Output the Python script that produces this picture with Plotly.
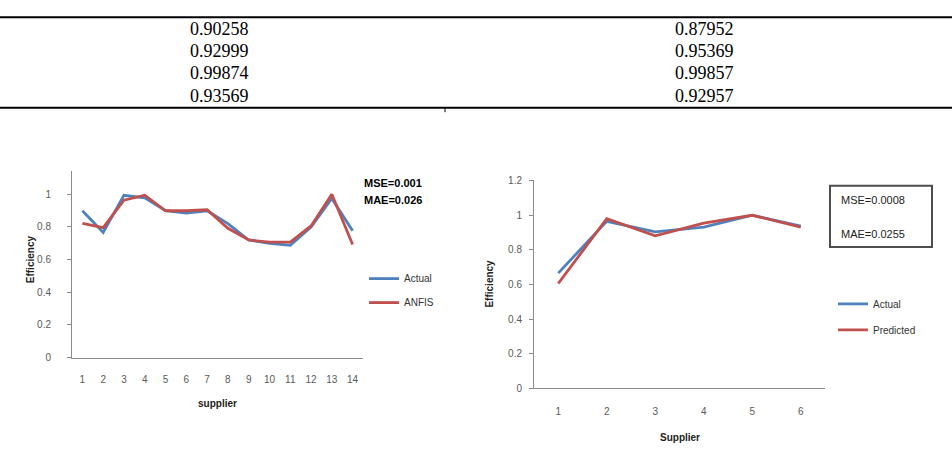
import plotly.graph_objects as go

W, H = 952, 460

# ---- data ----
table_left = ["0.90258", "0.92999", "0.99874", "0.93569"]
table_right = ["0.87952", "0.95369", "0.99857", "0.92957"]

suppliers_a = list(range(1, 15))
actual_a = [0.899, 0.766, 0.994, 0.978, 0.899, 0.885, 0.899, 0.820, 0.720, 0.700, 0.687, 0.800, 0.974, 0.776]
anfis_a = [0.822, 0.796, 0.964, 0.994, 0.899, 0.899, 0.905, 0.792, 0.720, 0.707, 0.707, 0.806, 1.000, 0.693]

suppliers_b = list(range(1, 7))
actual_b = [0.665, 0.964, 0.90258, 0.92999, 0.99874, 0.93569]
predicted_b = [0.605, 0.979, 0.87952, 0.95369, 0.99857, 0.92957]

stats_a = ["MSE=0.001", "MAE=0.026"]
stats_b = ["MSE=0.0008", "MAE=0.0255"]

BLUE = "#4F81BD"
RED = "#C0504D"
AXIS = "#8C8C8C"
TICKC = "#595959"
FONT = "Liberation Sans, Arial, sans-serif"
SERIF = "Liberation Serif, Times New Roman, serif"


def px(x):
    return x / W


def py(y):
    return 1 - y / H


def note(x, y, text, size, color, xanchor="center", yanchor="middle", family=FONT, angle=0):
    return dict(x=px(x), y=py(y), xref="paper", yref="paper", text=text, showarrow=False,
                xanchor=xanchor, yanchor=yanchor, textangle=angle,
                font=dict(family=family, size=size, color=color))


fig = go.Figure()

fig.add_trace(go.Scatter(x=suppliers_a, y=actual_a, mode="lines", name="Actual",
                         line=dict(color=BLUE, width=2.8), xaxis="x", yaxis="y",
                         legend="legend", legendgroup="a1"))
fig.add_trace(go.Scatter(x=suppliers_a, y=anfis_a, mode="lines", name="ANFIS",
                         line=dict(color=RED, width=2.8), xaxis="x", yaxis="y",
                         legend="legend", legendgroup="a2"))
fig.add_trace(go.Scatter(x=suppliers_b, y=actual_b, mode="lines", name="Actual",
                         line=dict(color=BLUE, width=2.8), xaxis="x2", yaxis="y2",
                         legend="legend2", legendgroup="b1"))
fig.add_trace(go.Scatter(x=suppliers_b, y=predicted_b, mode="lines", name="Predicted",
                         line=dict(color=RED, width=2.8), xaxis="x2", yaxis="y2",
                         legend="legend2", legendgroup="b2"))

tickfont = dict(family=FONT, size=10, color=TICKC)

common_x = dict(showline=True, linecolor=AXIS, linewidth=1, showgrid=False, zeroline=False,
                ticks="", tickfont=tickfont, fixedrange=True)
common_y = dict(showline=True, linecolor=AXIS, linewidth=1, showgrid=False, zeroline=False,
                ticks="outside", ticklen=4, tickcolor=AXIS, tickfont=tickfont, fixedrange=True)

annotations = []
shapes = []

# ---- table ----
row_y = [23.5, 46.5, 69, 92]
for ty, l, r in zip(row_y, table_left, table_right):
    annotations.append(note(219, ty, l, 18, "#000", family=SERIF))
    annotations.append(note(704, ty, r, 18, "#000", family=SERIF))
for ly in [11.5, 104.5]:
    shapes.append(dict(type="line", xref="paper", yref="paper", x0=0, x1=1, y0=py(ly), y1=py(ly),
                       line=dict(color="#000", width=2)))
shapes.append(dict(type="line", xref="paper", yref="paper", x0=px(445), x1=px(445), y0=py(105), y1=py(109),
                   line=dict(color="#000", width=1)))

# ---- chart 1 annotations ----
annotations.append(note(217, 408, "<b>supplier</b>", 10, "#222"))
annotations.append(note(30, 260, "<b>Efficiency</b>", 10, "#222", angle=-90))
for t, yy in zip(stats_a, [181.7, 199.3]):
    annotations.append(note(362, yy, "<b>" + t + "</b>", 11, "#000", xanchor="left"))

# ---- chart 2 annotations ----
annotations.append(note(680, 442.7, "<b>Supplier</b>", 10, "#222"))
annotations.append(note(490, 285, "<b>Efficiency</b>", 10, "#222", angle=-90))
shapes.append(dict(type="rect", xref="paper", yref="paper", x0=px(830), x1=px(932), y0=py(184.5), y1=py(247.5),
                   line=dict(color="#4D4D4D", width=2)))
for t, yy in zip(stats_b, [199.3, 234.3]):
    annotations.append(note(839, yy, t, 11, "#222", xanchor="left"))

legfont = dict(family=FONT, size=10, color="#333")

fig.update_layout(
    width=W, height=H, margin=dict(l=0, r=0, t=0, b=0),
    paper_bgcolor="white", plot_bgcolor="white",
    xaxis=dict(domain=[px(72), px(363)], range=[0.5, 14.5], tickmode="array",
               tickvals=suppliers_a, ticklabelstandoff=12, anchor="y", **common_x),
    yaxis=dict(domain=[py(361), py(169)], range=[0, 1.145], tickmode="array",
               tickvals=[0, 0.2, 0.4, 0.6, 0.8, 1], ticktext=["0", "0.2", "0.4", "0.6", "0.8", "1"],
               ticklabelstandoff=14, anchor="x", **common_y),
    xaxis2=dict(domain=[px(534), px(825)], range=[0.5, 6.5], tickmode="array",
                tickvals=suppliers_b, ticklabelstandoff=14, anchor="y2", **common_x),
    yaxis2=dict(domain=[py(392.7), py(179)], range=[0, 1.2], tickmode="array",
                tickvals=[0, 0.2, 0.4, 0.6, 0.8, 1, 1.2], ticktext=["0", "0.2", "0.4", "0.6", "0.8", "1", "1.2"],
                ticklabelstandoff=5, anchor="x2", **common_y),
    legend=dict(x=px(364), y=py(265), xanchor="left", yanchor="top", font=legfont,
                bgcolor="rgba(0,0,0,0)", tracegroupgap=5, itemwidth=30),
    legend2=dict(x=px(833), y=py(291), xanchor="left", yanchor="top", font=legfont,
                 bgcolor="rgba(0,0,0,0)", tracegroupgap=7, itemwidth=30),
    showlegend=True,
    annotations=annotations,
    shapes=shapes,
)

fig.write_html("out.html")
